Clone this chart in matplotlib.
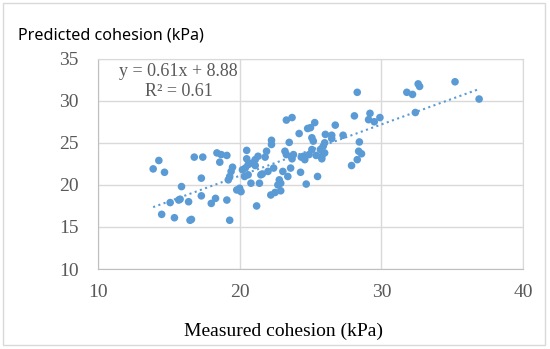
import numpy as np
import matplotlib.pyplot as plt
from matplotlib.patches import Rectangle

# Measured vs predicted cohesion (kPa)
measured = [13.9, 14.3, 14.7, 14.5, 15.4, 15.1, 15.7, 15.8, 15.9, 16.4,
            16.5, 16.6, 16.8, 17.4, 17.3, 17.3, 18.0, 18.3, 18.4, 18.7,
            19.1, 18.6, 19.1, 19.3, 19.2, 19.3, 19.4, 19.5, 19.8, 20.0,
            20.1, 20.5, 20.5, 20.4, 20.6, 20.35, 20.6, 20.2, 20.8, 20.9,
            21.1, 21.1, 21.2, 21.3, 21.4, 21.5, 21.6, 21.8, 21.9, 22.0,
            22.2, 22.25, 22.25, 22.4, 22.5, 22.7, 22.8, 22.9, 22.9, 23.05,
            23.2, 23.3, 23.3, 23.7, 23.4, 23.5, 23.6, 23.7, 23.8, 24.2,
            24.3, 24.35, 24.6, 24.7, 24.8, 25.0, 24.9, 25.1, 25.1, 25.2,
            25.3, 25.4, 25.5, 25.7, 25.8, 25.9, 26.0, 26.0, 26.05, 26.5,
            26.5, 26.75, 27.3, 27.9, 28.1, 28.3, 28.3, 28.4, 28.6, 28.45,
            29.1, 29.2, 29.5, 29.9, 31.8, 32.2, 32.4, 32.6, 32.7, 35.2,
            36.9, 25.8, 24.5]
predicted = [21.9, 22.9, 21.5, 16.5, 16.1, 17.9, 18.2, 18.3, 19.8, 18.0,
             15.8, 15.9, 23.3, 23.3, 20.8, 18.7, 17.8, 18.4, 23.8, 23.6,
             23.5, 22.7, 18.2, 15.8, 20.6, 21.0, 21.6, 22.1, 19.4, 19.6,
             19.2, 24.1, 23.1, 22.0, 22.4, 21.0, 21.2, 21.8, 20.2, 22.6,
             22.3, 23.0, 17.5, 23.4, 20.2, 21.2, 21.3, 23.3, 24.0, 21.6,
             18.8, 25.3, 24.8, 22.0, 19.1, 20.0, 20.6, 20.2, 19.3, 21.6,
             24.0, 23.6, 27.7, 28.0, 21.0, 25.05, 22.0, 23.1, 23.6, 26.1,
             21.5, 23.3, 23.0, 20.1, 26.7, 26.8, 23.6, 24.2, 25.6, 25.2,
             27.4, 23.5, 21.0, 24.2, 23.4, 24.6, 25.0, 23.8, 26.0, 25.9,
             25.5, 27.1, 25.9, 22.3, 28.2, 31.0, 23.0, 24.0, 23.7, 25.1,
             27.75, 28.5, 27.5, 28.0, 31.0, 30.75, 28.6, 32.0, 31.7, 32.25,
             30.2, 23.1, 23.4]

slope = 0.61
intercept = 8.88
r2 = 0.61

blue = '#5B9BD5'
grid_c = '#D9D9D9'
tick_c = '#595959'

fig = plt.figure(figsize=(5.5, 3.49), dpi=100)
ax = fig.add_axes([0.178, 0.229, 0.773, 0.603])

ax.scatter(measured, predicted, s=30, color=blue, edgecolors='none', zorder=3)

# trendline from the equation shown on the chart
xs = np.array([min(measured), max(measured)])
ax.plot(xs, slope * xs + intercept, ':', color=blue, lw=1.5, zorder=2)

ax.set_xlim(10, 40)
ax.set_ylim(10, 35)
ax.set_xticks([10, 20, 30, 40])
ax.set_yticks([10, 15, 20, 25, 30, 35])
ax.grid(True, color=grid_c, lw=1)
ax.set_axisbelow(True)
for s in ax.spines.values():
    s.set_color(grid_c)
ax.spines['left'].set_color('#BFBFBF')
ax.spines['bottom'].set_color('#BFBFBF')
ax.tick_params(length=0, labelcolor=tick_c, labelsize=14)
ax.tick_params(axis='x', pad=11)
ax.tick_params(axis='y', pad=14)
for lab in ax.get_xticklabels() + ax.get_yticklabels():
    lab.set_family('Liberation Serif')

ax.text(0.19, 0.94, f'y = {slope}x + {intercept}', transform=ax.transAxes,
        ha='center', va='center', fontsize=13, color=tick_c,
        family='Liberation Serif')
ax.text(0.19, 0.845, f'R² = {r2}', transform=ax.transAxes,
        ha='center', va='center', fontsize=13, color=tick_c,
        family='Liberation Serif')

fig.text(18 / 550, 1 - 36 / 349, 'Predicted cohesion (kPa)', ha='left',
         va='center', fontsize=11.6, family='Noto Sans')
fig.text(284 / 550, 1 - 331 / 349, 'Measured cohesion (kPa)', ha='center',
         va='center', fontsize=14, family='Liberation Serif')

fig.patches.append(Rectangle((0.005, 0.012), 0.985, 0.98, transform=fig.transFigure,
                             fill=False, ec='#D9D9D9', lw=1))

fig.savefig('out.png', dpi=100)
